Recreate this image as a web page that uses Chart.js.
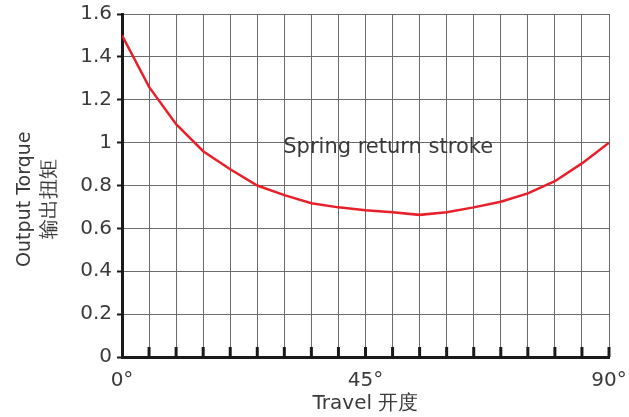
<!DOCTYPE html>
<html>
<head>
<meta charset="utf-8">
<script src="https://cdn.jsdelivr.net/npm/chart.js@4.4.1/dist/chart.umd.min.js"></script>
<style>
  html, body { margin: 0; padding: 0; background: #fff; }
  #wrap { width: 629px; height: 417px; }
</style>
</head>
<body>
<div id="wrap"><canvas id="myChart"></canvas></div>
<script>
// travel angle (deg) and torque
const travel = [0, 5, 10, 15, 20, 25, 30, 35, 40, 45, 50, 55, 60, 65, 70, 75, 80, 85, 90];
const torque = [1.50, 1.26, 1.086, 0.96, 0.876, 0.80, 0.755, 0.717, 0.698, 0.685, 0.675, 0.663, 0.675, 0.698, 0.724, 0.763, 0.82, 0.903, 1.0];
const xLabels = { 0: '0°', 45: '45°', 90: '90°' };
const yTitle = ['Output Torque', '输出扭矩'];
const noteText = 'Spring return stroke';
const notePos = { x: 29.8, y: 0.975 };

const fontFamily = '"DejaVu Sans", "Liberation Sans", Arial, sans-serif';
const textColor = '#3a3a3a';

// short ticks pointing up from the x axis, the curve label and the y title
const extrasPlugin = {
  id: 'extras',
  afterDraw(chart) {
    const ctx = chart.ctx;
    const xs = chart.scales.x;
    const ys = chart.scales.y;
    const area = chart.chartArea;
    ctx.save();
    ctx.strokeStyle = '#1a1a1a';
    ctx.lineWidth = 3;
    xs.ticks.forEach((t) => {
      if (t.value === 0) return;
      const px = xs.getPixelForValue(t.value);
      ctx.beginPath();
      ctx.moveTo(px, ys.bottom);
      ctx.lineTo(px, ys.bottom - 10);
      ctx.stroke();
    });
    ctx.fillStyle = textColor;
    ctx.font = '21px ' + fontFamily;
    ctx.textAlign = 'left';
    ctx.textBaseline = 'middle';
    ctx.fillText(noteText, xs.getPixelForValue(notePos.x), ys.getPixelForValue(notePos.y));

    // y axis title, two rotated lines
    ctx.textAlign = 'center';
    ctx.translate(ys.left, area.top + area.height * 0.54);
    ctx.rotate(-Math.PI / 2);
    ctx.font = '19px ' + fontFamily;
    ctx.fillText(yTitle[0], 0, 13);
    ctx.font = '20px ' + fontFamily;
    ctx.fillText(yTitle[1], 0, 38);
    ctx.restore();
  }
};

const ctx = document.getElementById('myChart').getContext('2d');
new Chart(ctx, {
  type: 'line',
  data: {
    datasets: [{
      data: travel.map((x, i) => ({ x: x, y: torque[i] })),
      borderColor: '#e8202a',
      borderWidth: 2.5,
      pointRadius: 0,
      tension: 0,
      fill: false
    }]
  },
  options: {
    responsive: true,
    maintainAspectRatio: false,
    animation: false,
    layout: { padding: { top: 14, right: 0, bottom: 0, left: 12 } },
    plugins: { legend: { display: false }, tooltip: { enabled: false } },
    scales: {
      x: {
        type: 'linear',
        min: 0,
        max: 90,
        afterFit: (s) => { s.height = 60; s.paddingRight = 20; },
        ticks: {
          stepSize: 5,
          autoSkip: false,
          maxRotation: 0,
          padding: 12,
          color: textColor,
          font: { family: fontFamily, size: 20 },
          callback: (v) => xLabels[v] || ''
        },
        grid: { color: '#6b6b6b', lineWidth: 1, drawTicks: false },
        border: { color: '#1a1a1a', width: 3 },
        title: {
          display: true,
          text: 'Travel 开度',
          color: textColor,
          font: { family: fontFamily, size: 20, lineHeight: 1.2 },
          padding: { top: 0, bottom: 1 }
        }
      },
      y: {
        min: 0,
        max: 1.6,
        afterFit: (s) => { s.width = 110; s.paddingTop = 0; },
        ticks: {
          stepSize: 0.2,
          padding: 5,
          color: textColor,
          font: { family: fontFamily, size: 20 },
          callback: (v) => String(Math.round(v * 10) / 10)
        },
        grid: { color: '#6b6b6b', lineWidth: 1, tickLength: 5, tickColor: '#1a1a1a', tickWidth: 2 },
        border: { color: '#1a1a1a', width: 3 }
      }
    }
  },
  plugins: [extrasPlugin]
});
</script>
</body>
</html>
